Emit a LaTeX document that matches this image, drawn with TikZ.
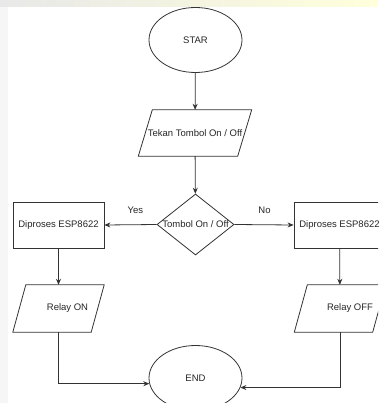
\documentclass[tikz,border=0pt]{standalone}
\usepackage{fontspec}
\setmainfont{Liberation Sans}
\usetikzlibrary{shapes.geometric,arrows.meta,calc}
\begin{document}
\begin{tikzpicture}[x=1pt,y=-1pt,
  every node/.style={font=\fontsize{9.5}{11}\selectfont, text=black!85},
  line/.style={draw=black!80, line width=0.8pt},
  arr/.style={line, -{Stealth[length=6pt,width=5pt]}},
  term/.style={line, ellipse, minimum width=93pt, minimum height=65pt, inner sep=0pt},
  iobox/.style={rectangle, inner sep=0pt},
  proc/.style={line, rectangle, minimum width=91pt, minimum height=46pt, inner sep=0pt},
  decision/.style={line, diamond, minimum width=77pt, minimum height=61pt, inner sep=0pt},
  edgelabel/.style={anchor=center, yshift=14.5pt}]
\useasboundingbox (0,0) rectangle (378,403);
\fill[white] (0,0) rectangle (378,403);
\shade[left color=gray!18, middle color=green!18!yellow!22, right color=yellow!14] (0,0) rectangle (378,7);
\fill[gray!7] (0,7) rectangle (8,403);
\begin{scope}
\clip (0,0) rectangle (378,403);
\node[term] (star) at (195.5,40) {STAR};
\node[iobox, minimum width=113pt, minimum height=46pt] (tekan) at (195,133) {Tekan Tombol On / Off};
\draw[line] (tekan.south west) -- ($(tekan.north west)+(14,0)$) -- (tekan.north east) -- ($(tekan.south east)+(-14,0)$) -- cycle;
\node[decision, label={center:Tombol On / Off}] (dec) at (195.5,224.5) {};
\node[proc] (pl) at (58.5,225) {Diproses ESP8622};
\node[proc] (pr) at (339.5,225) {Diproses ESP8622};
\node[iobox, minimum width=91pt, minimum height=47pt, label={[xshift=9pt]center:Relay ON}] (ron) at (58.5,308.5) {};
\draw[line] (ron.south west) -- ($(ron.north west)+(13,0)$) -- (ron.north east) -- ($(ron.south east)+(-13,0)$) -- cycle;
\node[iobox, minimum width=91pt, minimum height=47pt, label={[xshift=10pt]center:Relay OFF}] (roff) at (340,308.5) {};
\draw[line] (roff.south west) -- ($(roff.north west)+(13,0)$) -- (roff.north east) -- ($(roff.south east)+(-13,0)$) -- cycle;
\node[term] (end) at (195.5,378) {END};
\draw[arr] (star) -- (tekan);
\draw[arr] (tekan) -- (dec);
\draw[arr] (dec.west) -- node[edgelabel, pos=0.405] {Yes} (pl.east);
\draw[arr] (dec.east) -- node[edgelabel, pos=0.508] {No} (pr.west);
\draw[arr] (pl) -- (ron);
\draw[arr] (pr) -- (roff);
\draw[arr] (ron.south) |- (end.187);
\draw[arr] (roff.south) |- (end.348);
\end{scope}
\end{tikzpicture}
\end{document}
